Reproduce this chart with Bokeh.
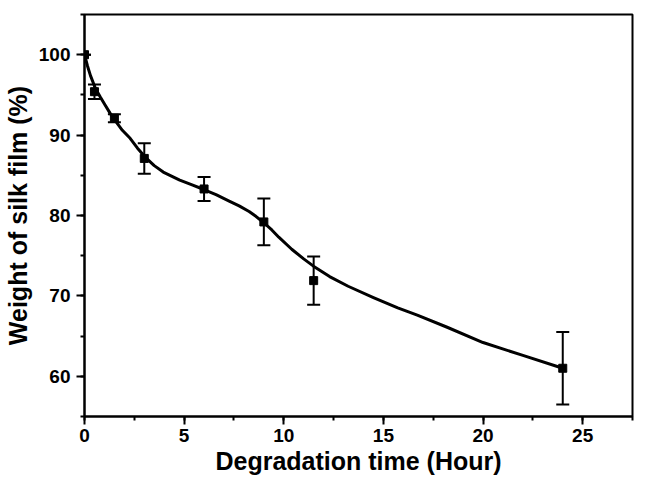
from bokeh.plotting import figure
from bokeh.models import ColumnDataSource, Whisker, TeeHead, SingleIntervalTicker, Range1d
from bokeh.embed import file_html
from bokeh.resources import INLINE

# Measured data (degradation time in hours, weight %)
time_h = [0, 0.5, 1.5, 3, 6, 9, 11.5, 24]
weight = [100, 95.4, 92.1, 87.1, 83.3, 79.2, 71.9, 61.0]
err = [0, 0.9, 0.5, 1.9, 1.5, 2.9, 3.0, 4.5]

# Fitted curve
curve_x = [0, 0.15, 0.3, 0.55, 0.8, 1.04, 1.29, 1.54, 1.9, 2.29, 2.65, 3.03,
           3.5, 3.95, 4.78, 5.4, 6.02, 6.6, 7.26, 7.76, 8.26, 8.6, 9.0, 9.4,
           9.75, 10.4, 11.0, 11.49, 12.3, 13.23, 14.5, 15.72, 16.7, 18.2,
           20.0, 22.0, 24.0]
curve_y = [100, 98.6, 97.4, 95.8, 94.7, 93.7, 92.7, 91.8, 90.6, 89.6, 88.4, 87.3,
           86.2, 85.4, 84.4, 83.8, 83.2, 82.6, 81.8, 81.2, 80.5, 79.9, 79.1, 78.2,
           77.3, 75.8, 74.6, 73.7, 72.4, 71.2, 69.8, 68.5, 67.6, 66.1,
           64.2, 62.6, 61.0]

FONT = "Liberation Sans"

p = figure(width=634, height=482, output_backend="svg", toolbar_location=None,
           x_range=Range1d(0, 27.5), y_range=Range1d(55, 105))
p.min_border_left = 84
p.min_border_top = 14
p.min_border_right = 2
p.min_border_bottom = 66

p.xgrid.visible = False
p.ygrid.visible = False
p.outline_line_color = "black"
p.outline_line_width = 2
p.outline_line_alpha = 1.0

src = ColumnDataSource(dict(x=time_h, y=weight,
                            upper=[w + e for w, e in zip(weight, err)],
                            lower=[w - e for w, e in zip(weight, err)]))

p.line(curve_x, curve_y, line_color="black", line_width=3, line_join="round")

wh = Whisker(source=src, base="x", upper="upper", lower="lower",
             line_color="black", line_width=2,
             upper_head=TeeHead(size=13, line_color="black", line_width=2),
             lower_head=TeeHead(size=13, line_color="black", line_width=2))
p.add_layout(wh)

p.scatter("x", "y", source=src, marker="square", size=8, color="black")

p.xaxis.ticker = SingleIntervalTicker(interval=5, num_minor_ticks=2)
p.yaxis.ticker = SingleIntervalTicker(interval=10, num_minor_ticks=2)

for ax in (p.xaxis[0], p.yaxis[0]):
    ax.axis_line_width = 2
    ax.axis_line_color = "black"
    ax.major_tick_line_width = 2
    ax.minor_tick_line_width = 2
    ax.major_tick_line_color = "black"
    ax.minor_tick_line_color = "black"
    ax.major_tick_in = 0
    ax.minor_tick_in = 0
    ax.major_tick_out = 8
    ax.minor_tick_out = 4
    ax.major_label_text_font = FONT
    ax.major_label_text_font_style = "bold"
    ax.major_label_text_font_size = "19px"
    ax.major_label_text_color = "black"
    ax.axis_label_text_font = FONT
    ax.axis_label_text_font_style = "bold"
    ax.axis_label_text_font_size = "25px"
    ax.axis_label_text_color = "black"

p.xaxis.axis_label = "Degradation time (Hour)"
p.yaxis.axis_label = "Weight of silk film (%)"
p.xaxis.major_label_standoff = 4
p.xaxis.axis_label_standoff = 2
p.yaxis.major_label_standoff = 6
p.yaxis.axis_label_standoff = 4

open("out.html", "w").write(file_html(p, INLINE))
